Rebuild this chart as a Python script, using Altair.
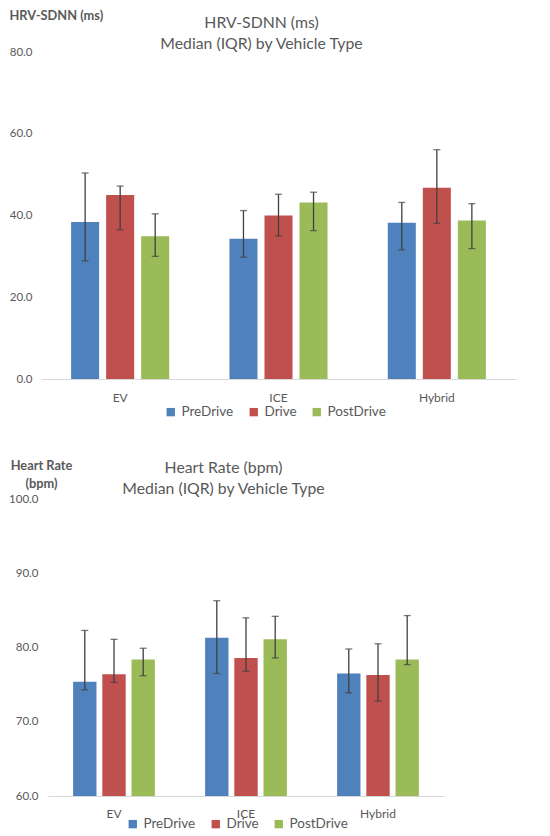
import altair as alt
import pandas as pd

vehicles = ["EV", "ICE", "Hybrid"]
phases = ["PreDrive", "Drive", "PostDrive"]
colors = ["#4F81BD", "#C0504D", "#9BBB59"]

# HRV-SDNN (ms): values per phase, ordered EV, ICE, Hybrid
hrv_pre_med = [38.4, 34.3, 38.2]
hrv_drive_med = [45.0, 40.0, 46.8]
hrv_post_med = [34.9, 43.2, 38.8]
hrv_pre_q1 = [28.9, 29.8, 31.6]
hrv_drive_q1 = [36.5, 35.0, 38.1]
hrv_post_q1 = [30.0, 36.3, 31.9]
hrv_pre_q3 = [50.4, 41.2, 43.2]
hrv_drive_q3 = [47.2, 45.2, 56.1]
hrv_post_q3 = [40.4, 45.7, 42.9]

# Heart rate (bpm)
hr_pre_med = [75.4, 81.3, 76.5]
hr_drive_med = [76.4, 78.6, 76.3]
hr_post_med = [78.4, 81.1, 78.4]
hr_pre_q1 = [74.3, 76.5, 73.9]
hr_drive_q1 = [75.3, 76.8, 72.8]
hr_post_q1 = [76.2, 78.6, 77.7]
hr_pre_q3 = [82.3, 86.3, 79.8]
hr_drive_q3 = [81.1, 84.0, 80.5]
hr_post_q3 = [79.9, 84.2, 84.3]

hrv_ticks = [0, 20, 40, 60, 80]
hr_ticks = [60, 70, 80, 90, 100]


def table(meds, q1s, q3s):
    rows = []
    for p, m, lo, hi in zip(phases, meds, q1s, q3s):
        for v, a, b, c in zip(vehicles, m, lo, hi):
            rows.append({"vehicle": v, "phase": p, "median": a, "q1": b, "q3": c})
    return pd.DataFrame(rows)


hrv_df = table([hrv_pre_med, hrv_drive_med, hrv_post_med],
               [hrv_pre_q1, hrv_drive_q1, hrv_post_q1],
               [hrv_pre_q3, hrv_drive_q3, hrv_post_q3])
hr_df = table([hr_pre_med, hr_drive_med, hr_post_med],
              [hr_pre_q1, hr_drive_q1, hr_post_q1],
              [hr_pre_q3, hr_drive_q3, hr_post_q3])

GRAY = "#595959"
FONT = "Lato"


def panel(df, ticks, xrange, height, title_lines, title_dx, title_dy, title_offset,
          ytitle, ytitle_props, label_pad, legend_x, legend_y, xlabel_pad):
    x = alt.X("vehicle:N", sort=vehicles,
              scale=alt.Scale(range=xrange, paddingInner=0, paddingOuter=0),
              axis=alt.Axis(title=None, labelAngle=0, ticks=False, domainColor="#d9d9d9",
                            domainWidth=1, labelPadding=xlabel_pad, labelFontSize=12,
                            labelColor=GRAY, labelFont=FONT))
    xo = alt.XOffset("phase:N", sort=phases,
                     scale=alt.Scale(domain=phases, paddingInner=0.2, paddingOuter=0.86))
    yscale = alt.Scale(domain=[ticks[0], ticks[-1]], nice=False, zero=False)
    yaxis = alt.Axis(values=ticks, format=".1f", grid=False, domain=False, ticks=False,
                     labelPadding=label_pad, labelFontSize=11.5, labelColor=GRAY, labelFont=FONT,
                     title=ytitle, titleAngle=0, titleFontWeight="bold", titleFontSize=12.8,
                     titleColor=GRAY, titleFont=FONT, **ytitle_props)
    bars = alt.Chart(df).mark_bar().encode(
        x=x, xOffset=xo,
        y=alt.Y("median:Q", scale=yscale, axis=yaxis),
        y2=alt.datum(ticks[0]),
        color=alt.Color("phase:N", sort=phases,
                        scale=alt.Scale(domain=phases, range=colors),
                        legend=alt.Legend(orient="none", legendX=legend_x, legendY=legend_y,
                                          direction="horizontal", title=None,
                                          symbolType="square", symbolSize=70,
                                          symbolStrokeWidth=0, labelFontSize=13.5,
                                          labelColor=GRAY, labelFont=FONT,
                                          labelOffset=4, columnPadding=13)),
    )
    rule = alt.Chart(df).mark_rule(color="#404040", strokeWidth=1.3).encode(
        x=alt.X("vehicle:N", sort=vehicles), xOffset=alt.XOffset("phase:N", sort=phases),
        y="q1:Q", y2="q3:Q")
    cap_hi = alt.Chart(df).mark_tick(color="#404040", thickness=1.3, size=7,
                                     orient="horizontal").encode(
        x=alt.X("vehicle:N", sort=vehicles), xOffset=alt.XOffset("phase:N", sort=phases),
        y="q3:Q")
    cap_lo = alt.Chart(df).mark_tick(color="#404040", thickness=1.3, size=7,
                                     orient="horizontal").encode(
        x=alt.X("vehicle:N", sort=vehicles), xOffset=alt.XOffset("phase:N", sort=phases),
        y="q1:Q")
    return alt.layer(bars, rule, cap_hi, cap_lo).properties(
        width=475, height=height,
        title=alt.TitleParams(text=title_lines, fontSize=15.8, color=GRAY, font=FONT,
                              fontWeight="normal", anchor="middle", dx=title_dx, dy=title_dy,
                              offset=title_offset, lineHeight=21.5),
    )


top = panel(hrv_df, hrv_ticks, [0, 475], 327,
            ["HRV-SDNN (ms)", "Median (IQR) by Vehicle Type"], -17, 44, 0,
            "HRV-SDNN (ms)",
            dict(titleAlign="left", titleBaseline="middle", titleX=-32, titleY=-37),
            9, 123, 353, 13)
bottom = panel(hr_df, hr_ticks, [7, 403], 297,
               ["Heart Rate (bpm)", "Median (IQR) by Vehicle Type"], -55, 41, 2,
               ["Heart Rate", "(bpm)"],
               dict(titleAlign="center", titleBaseline="middle", titleX=0, titleY=-34,
                    titleLineHeight=18),
               3, 85, 318, 12)

chart = alt.vconcat(top, bottom, spacing=120, bounds="flush").resolve_scale(
    color="independent", x="independent", y="independent", xOffset="independent"
).resolve_legend(color="independent").properties(
    padding={"left": 0, "top": 1, "right": 5, "bottom": 5}
).configure(font=FONT).configure_view(strokeWidth=0, stroke="transparent")

chart.save("out.html", embed_options={"renderer": "svg", "actions": False})
